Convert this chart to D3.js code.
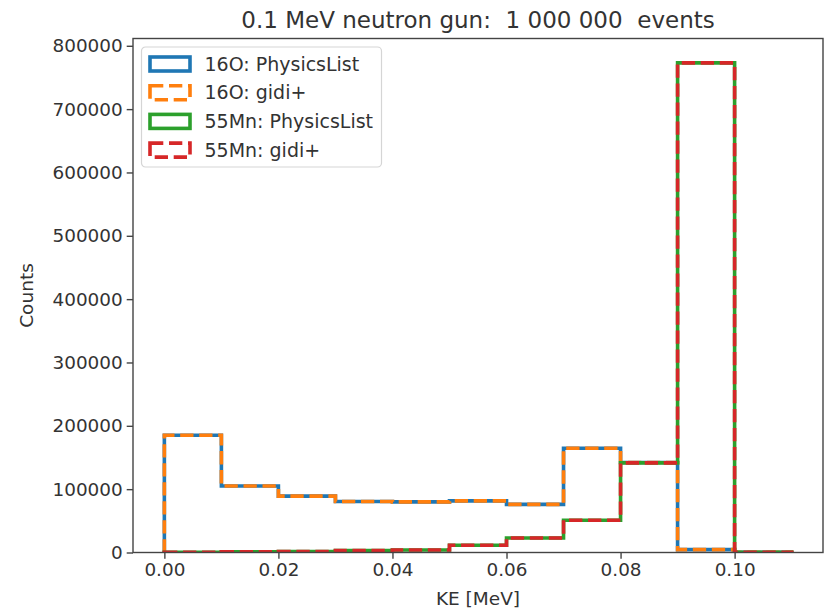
<!DOCTYPE html>
<html>
<head>
  <meta charset="utf-8">
  <title>0.1 MeV neutron gun</title>
  <style>
    body { margin: 0; background: #fff; }
    text { font-family: "DejaVu Sans", sans-serif; fill: #333; }
  </style>
</head>
<body>
<script src="https://cdn.jsdelivr.net/npm/d3@7"></script>
<script>
// bin edges in MeV (0.01 MeV wide)
var binEdges = [0, 0.01, 0.02, 0.03, 0.04, 0.05, 0.06, 0.07, 0.08, 0.09, 0.10, 0.11];

// counts per bin
var o16Physics  = [185000, 105000, 89000, 80500, 80000, 81500, 76000, 164500, 142000, 4500, 500];
var o16Gidi     = [185000, 105000, 89000, 80500, 80000, 81500, 76000, 164500, 142000, 4500, 500];
var mn55Physics = [500, 1000, 1500, 3000, 4000, 11500, 23000, 51000, 141500, 773000, 500];
var mn55Gidi    = [500, 1000, 1500, 3000, 4000, 11500, 23000, 51000, 141500, 773000, 500];

var seriesNames = ["16O: PhysicsList", "16O: gidi+", "55Mn: PhysicsList", "55Mn: gidi+"];
var xTicks = [0, 0.02, 0.04, 0.06, 0.08, 0.10];
var yTicks = [0, 100000, 200000, 300000, 400000, 500000, 600000, 700000, 800000];

var W = 828, H = 612;
var margin = {top: 38.5, right: 5, bottom: 59.5, left: 133};

var svg = d3.select("body").append("svg")
  .attr("width", W).attr("height", H);

var x = d3.scaleLinear().domain([-0.0055, 0.1155]).range([margin.left, W - margin.right]);
var y = d3.scaleLinear().domain([0, 811500]).range([H - margin.bottom, margin.top]);

svg.append("clipPath").attr("id", "plotclip")
  .append("rect")
  .attr("x", x.range()[0]).attr("y", y.range()[1])
  .attr("width", x.range()[1] - x.range()[0])
  .attr("height", y.range()[0] - y.range()[1]);

var series = [
  {name: seriesNames[0], values: o16Physics,  color: "#1f77b4", dash: null},
  {name: seriesNames[1], values: o16Gidi,     color: "#ff7f0e", dash: "13.3,5.7"},
  {name: seriesNames[2], values: mn55Physics, color: "#2ca02c", dash: null},
  {name: seriesNames[3], values: mn55Gidi,    color: "#d62728", dash: "13.3,5.7"}
];

// step outline like matplotlib histtype="step"
function stepPoints(vals) {
  var pts = [[binEdges[0], 0]];
  vals.forEach(function(v, i) {
    pts.push([binEdges[i], v]);
    pts.push([binEdges[i + 1], v]);
  });
  pts.push([binEdges[binEdges.length - 1], 0]);
  return pts;
}

var line = d3.line()
  .x(function(d) { return x(d[0]); })
  .y(function(d) { return y(d[1]); });

svg.append("g").attr("clip-path", "url(#plotclip)")
  .selectAll("path")
  .data(series)
  .enter().append("path")
  .attr("d", function(d) { return line(stepPoints(d.values)); })
  .attr("fill", "none")
  .attr("stroke", function(d) { return d.color; })
  .attr("stroke-width", 3.6)
  .attr("stroke-dasharray", function(d) { return d.dash; })
  .attr("stroke-linejoin", "miter");

// axes
var xAxis = svg.append("g")
  .attr("transform", "translate(0," + y.range()[0] + ")")
  .call(d3.axisBottom(x).tickValues(xTicks).tickFormat(d3.format(".2f")).tickSize(6.3).tickPadding(4));

var yAxis = svg.append("g")
  .attr("transform", "translate(" + x.range()[0] + ",0)")
  .call(d3.axisLeft(y).tickValues(yTicks).tickFormat(d3.format("d")).tickSize(6.3).tickPadding(4));

[xAxis, yAxis].forEach(function(a) {
  a.select(".domain").remove();
  a.selectAll(".tick line").attr("stroke", "#444").attr("stroke-width", 1.4);
  a.selectAll(".tick text").style("font-size", "18.4px").attr("fill", "#333")
    .style("font-family", "DejaVu Sans");
});

// frame
svg.append("rect")
  .attr("x", x.range()[0]).attr("y", y.range()[1])
  .attr("width", x.range()[1] - x.range()[0])
  .attr("height", y.range()[0] - y.range()[1])
  .attr("fill", "none").attr("stroke", "#444").attr("stroke-width", 1.4);

// labels
svg.append("text")
  .attr("x", (x.range()[0] + x.range()[1]) / 2).attr("y", 28)
  .attr("text-anchor", "middle").style("font-size", "23px")
  .attr("xml:space", "preserve")
  .text("0.1 MeV neutron gun:  1 000 000  events");

svg.append("text")
  .attr("x", (x.range()[0] + x.range()[1]) / 2).attr("y", 605)
  .attr("text-anchor", "middle").style("font-size", "18.5px")
  .text("KE [MeV]");

svg.append("text")
  .attr("transform", "translate(33," + ((y.range()[0] + y.range()[1]) / 2) + ") rotate(-90)")
  .attr("text-anchor", "middle").style("font-size", "18.5px")
  .text("Counts");

// legend
var legend = svg.append("g").attr("transform", "translate(141.5,47)");
legend.append("rect")
  .attr("width", 240).attr("height", 120).attr("rx", 4)
  .attr("fill", "#fff").attr("fill-opacity", 0.8)
  .attr("stroke", "#d5d5d5").attr("stroke-width", 1.2);

var item = legend.selectAll("g.item")
  .data(series)
  .enter().append("g").attr("class", "item")
  .attr("transform", function(d, i) { return "translate(0," + (17 + i * 28.7) + ")"; });

item.append("rect")
  .attr("x", 8.5).attr("y", -7).attr("width", 40).attr("height", 14)
  .attr("fill", "none")
  .attr("stroke", function(d) { return d.color; })
  .attr("stroke-width", 3.6)
  .attr("stroke-dasharray", function(d) { return d.dash; });

item.append("text")
  .attr("x", 63).attr("y", 6.6)
  .style("font-size", "19px")
  .text(function(d) { return d.name; });
</script>
</body>
</html>
